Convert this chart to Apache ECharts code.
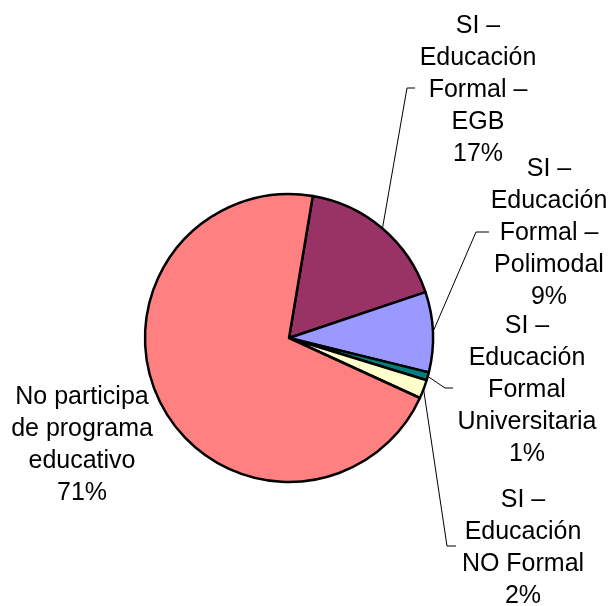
<!DOCTYPE html>
<html>
<head>
<meta charset="utf-8">
<script src="https://cdn.jsdelivr.net/npm/echarts@6/dist/echarts.min.js"></script>
<style>
  html, body { margin: 0; padding: 0; background: #fff; }
  #chart { width: 613px; height: 606px; }
</style>
</head>
<body>
<div id="chart"></div>
<script>
// slices, clockwise from the top
const names = [
  "SI –\nEducación\nFormal –\nEGB",
  "SI –\nEducación\nFormal –\nPolimodal",
  "SI –\nEducación\nFormal\nUniversitaria",
  "SI –\nEducación\nNO Formal",
  "No participa\nde programa\neducativo"
];
const values = [17.2, 9.0, 0.9, 2.1, 70.8];
const colors = ["#993366", "#9999FF", "#008080", "#FFFFCC", "#FF8080"];

// label centers (px)
const labelPos = [[478, 90], [549, 233], [527, 390], [523, 548], [82, 445]];
// leader line bend / end points (px), null = no leader
const leaderPts = [
  [[407, 88], [415, 88]],
  [[476, 232], [489, 232]],
  [[445, 388], [453, 388]],
  [[447, 546], [456, 546]],
  null
];

const myChart = echarts.init(document.getElementById("chart"));

const option = {
  animation: false,
  series: [
    {
      type: "pie",
      center: [289, 338],
      radius: 144,
      startAngle: 80.5,
      clockwise: true,
      itemStyle: { borderColor: "#000", borderWidth: 2.5 },
      label: {
        show: true,
        position: "outside",
        color: "#000",
        fontFamily: "Liberation Sans, Arial, sans-serif",
        fontSize: 25,
        lineHeight: 32,
        align: "center",
        overflow: "none",
        formatter: function (p) {
          return p.name + "\n" + Math.round(p.percent) + "%";
        }
      },
      labelLine: {
        show: true,
        length: 10,
        length2: 10,
        lineStyle: { color: "#000", width: 1 }
      },
      labelLayout: function (params) {
        const i = params.dataIndex;
        const pos = labelPos[i];
        const out = {
          x: pos[0],
          y: pos[1],
          align: "center",
          verticalAlign: "middle"
        };
        if (leaderPts[i] && params.labelLinePoints) {
          out.labelLinePoints = [params.labelLinePoints[0], leaderPts[i][0], leaderPts[i][1]];
        }
        return out;
      },
      data: names.map(function (n, i) {
        const d = { name: n, value: values[i], itemStyle: { color: colors[i] } };
        if (i === 4) d.labelLine = { show: false };
        return d;
      })
    }
  ]
};

myChart.setOption(option);
window.addEventListener("resize", function () {
  myChart.resize();
});
</script>
</body>
</html>
